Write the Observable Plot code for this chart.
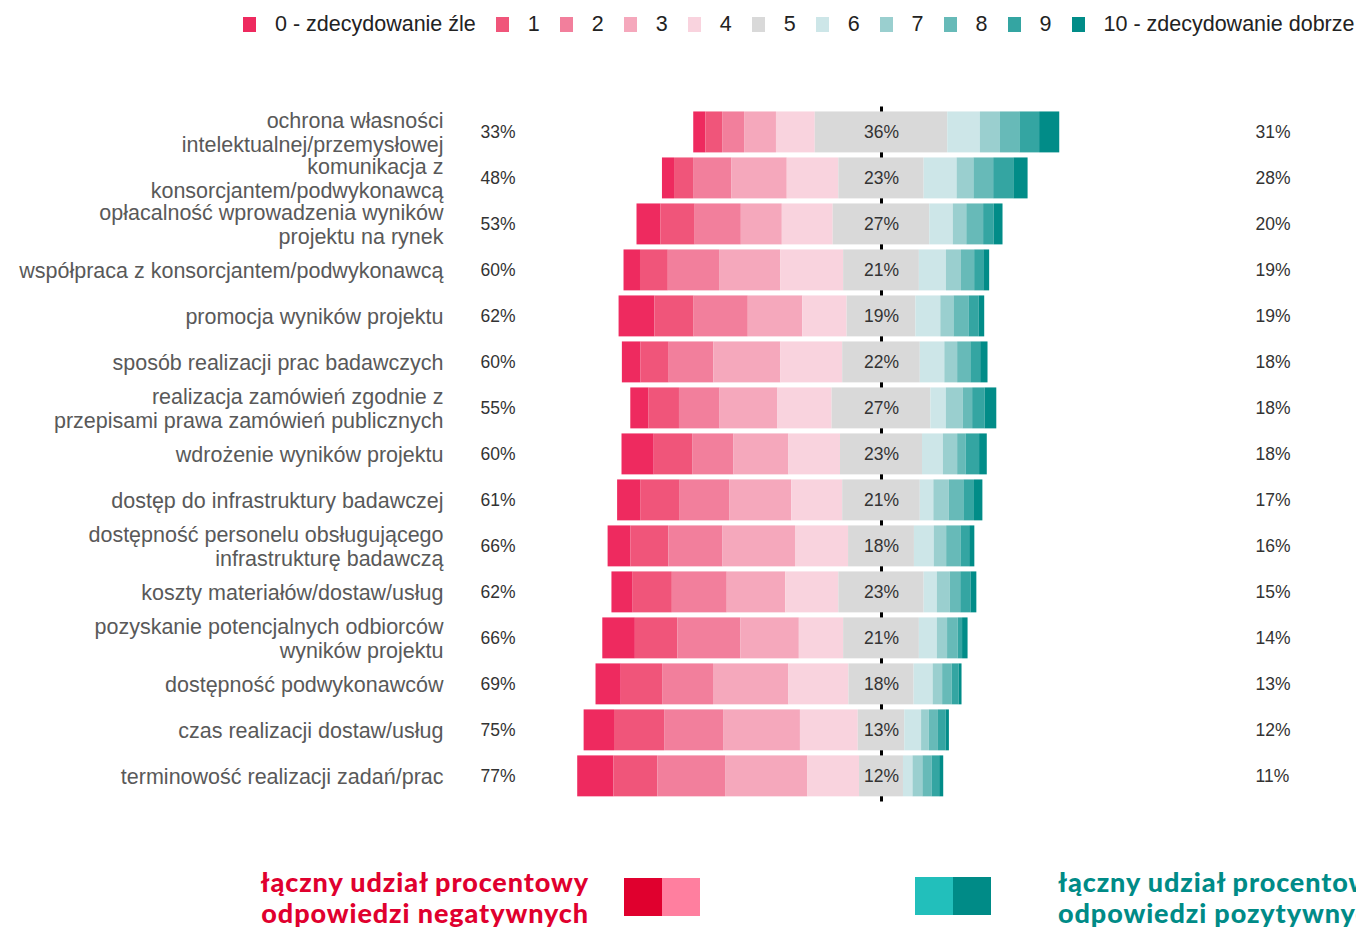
<!DOCTYPE html>
<html>
<head>
<meta charset="utf-8">
<script src="https://cdn.jsdelivr.net/npm/d3@7"></script>
<script src="https://cdn.jsdelivr.net/npm/@observablehq/plot@0.6"></script>
<style>
  html, body { margin: 0; padding: 0; background: #fff; width: 1356px; height: 927px; overflow: hidden; position: relative; }
  #legend { position: absolute; left: 243px; top: 12px; display: flex; align-items: center; white-space: nowrap;
            font-family: "Liberation Sans", Arial, sans-serif; font-size: 21.5px; color: #222; }
  #legend .sw { width: 13px; height: 15px; margin-right: 19px; }
  #legend .lb { margin-right: 20px; }
  #chart { position: absolute; left: 0; top: 50px; }
  .foot { position: absolute; font-family: "Lato", sans-serif; font-weight: 900; font-size: 27px; letter-spacing: 0.9px; line-height: 31px; white-space: nowrap; }
  #negText { right: calc(1356px - 589px); top: 866px; text-align: right; color: #e0002e; }
  #posText { left: 1058px; top: 866px; text-align: left; color: #008b87; }
  .box { position: absolute; width: 38px; height: 38px; }
</style>
</head>
<body>
<div id="legend"></div>
<div id="chart"></div>
<div class="foot" id="negText">łączny udział procentowy<br>odpowiedzi negatywnych</div>
<div class="box" style="left:624px;top:878px;background:#e0002e"></div>
<div class="box" style="left:662px;top:878px;background:#ff7f9f"></div>
<div class="box" style="left:915px;top:877px;background:#22bfbb"></div>
<div class="box" style="left:953px;top:877px;background:#008b87"></div>
<div class="foot" id="posText">łączny udział procentowy<br>odpowiedzi pozytywnych</div>
<script>
const categories = [
  "ochrona własności\nintelektualnej/przemysłowej",
  "komunikacja z\nkonsorcjantem/podwykonawcą",
  "opłacalność wprowadzenia wyników\nprojektu na rynek",
  "współpraca z konsorcjantem/podwykonawcą",
  "promocja wyników projektu",
  "sposób realizacji prac badawczych",
  "realizacja zamówień zgodnie z\nprzepisami prawa zamówień publicznych",
  "wdrożenie wyników projektu",
  "dostęp do infrastruktury badawczej",
  "dostępność personelu obsługującego\ninfrastrukturę badawczą",
  "koszty materiałów/dostaw/usług",
  "pozyskanie potencjalnych odbiorców\nwyników projektu",
  "dostępność podwykonawców",
  "czas realizacji dostaw/usług",
  "terminowość realizacji zadań/prac"
];
const levels = ["0 - zdecydowanie źle","1","2","3","4","5","6","7","8","9","10 - zdecydowanie dobrze"];
const colors = ["#ee2a5f","#f0557a","#f27f9c","#f5a8bc","#f9d3de","#d9d9d9","#cde6e8","#9acfcf","#67bab8","#34a5a2","#018c88"];
// shares (%) of answers 0..10 for each category
const values = [
  [3.3, 4.6, 6.0, 8.7, 10.6, 36.2, 8.9, 5.5, 5.3, 5.4, 5.5],
  [3.3, 5.2, 10.5, 15.1, 14.1, 23.3, 9.0, 4.6, 5.4, 5.5, 3.9],
  [6.5, 9.4, 12.6, 11.2, 13.9, 26.4, 6.4, 3.7, 4.6, 2.9, 2.4],
  [4.5, 7.6, 14.0, 16.7, 17.2, 20.7, 7.4, 4.1, 3.6, 2.5, 1.6],
  [9.8, 10.7, 14.8, 14.9, 12.1, 18.8, 6.8, 3.6, 4.1, 2.8, 1.5],
  [5.1, 7.7, 12.2, 18.3, 16.9, 21.2, 6.7, 3.5, 3.6, 2.7, 2.0],
  [5.0, 8.3, 11.1, 15.8, 14.8, 27.0, 4.2, 4.6, 2.6, 3.4, 3.2],
  [8.8, 10.5, 11.3, 15.0, 14.1, 22.4, 5.7, 3.9, 2.3, 3.7, 2.1],
  [6.3, 10.8, 13.5, 17.0, 13.9, 21.2, 3.7, 4.2, 4.0, 2.9, 2.3],
  [6.2, 10.4, 14.8, 19.8, 14.5, 18.0, 5.4, 3.4, 3.9, 2.4, 1.4],
  [5.8, 10.7, 15.0, 16.0, 14.5, 23.3, 3.6, 3.5, 2.9, 2.8, 1.6],
  [8.9, 11.6, 17.2, 16.0, 12.1, 20.7, 4.9, 2.8, 2.9, 1.2, 1.5],
  [6.9, 11.3, 13.9, 20.6, 16.4, 17.8, 5.2, 2.6, 2.6, 1.9, 0.8],
  [8.3, 13.7, 16.1, 21.0, 15.8, 12.7, 4.6, 2.1, 2.5, 2.1, 0.9],
  [9.9, 12.0, 18.5, 22.5, 14.1, 12.0, 2.6, 2.7, 2.5, 2.1, 1.1]
];
const negLabels = ["33%","48%","53%","60%","62%","60%","55%","60%","61%","66%","62%","66%","69%","75%","77%"];
const midLabels = ["36%","23%","27%","21%","19%","22%","27%","23%","21%","18%","23%","21%","18%","13%","12%"];
const posLabels = ["31%","28%","20%","19%","19%","18%","18%","18%","17%","16%","15%","14%","13%","12%","11%"];

// legend
const lg = d3.select("#legend");
levels.forEach((l, i) => {
  lg.append("div").attr("class", "sw").style("background", colors[i]);
  lg.append("div").attr("class", "lb").text(l);
});

// segments
const segs = [];
categories.forEach((c, r) => {
  const v = values[r];
  let start = -(d3.sum(v.slice(0, 5)) + v[5] / 2);
  v.forEach((val, k) => {
    segs.push({cat: c, level: levels[k], x1: start, x2: start + val});
    start += val;
  });
});
const rows = categories.map((c, i) => ({cat: c, neg: negLabels[i], mid: midLabels[i], pos: posLabels[i]}));

const font = "'Liberation Sans', Arial, sans-serif";
const plot = Plot.plot({
  width: 1356,
  height: 790,
  marginLeft: 515,
  marginRight: 109,
  marginTop: 56.4,
  marginBottom: 38.6,
  style: {fontFamily: font, background: "#fff"},
  x: {domain: [-100, 100], axis: null},
  y: {domain: categories, padding: 0.11, round: false, axis: null},
  color: {domain: levels, range: colors},
  marks: [
    Plot.ruleX([0], {stroke: "#000", strokeWidth: 3}),
    Plot.barX(segs, {x1: "x1", x2: "x2", y: "cat", fill: "level"}),
    Plot.text(rows, {x: 0, y: "cat", text: "mid", fontSize: 17.5, fill: "#333"}),
    Plot.text(rows, {y: "cat", text: "cat", frameAnchor: "left", dx: -72, textAnchor: "end", fontSize: 21.5, fill: "#595959", lineHeight: 1.12}),
    Plot.text(rows, {y: "cat", text: "neg", frameAnchor: "left", dx: -35, textAnchor: "start", fontSize: 17.5, fill: "#333"}),
    Plot.text(rows, {y: "cat", text: "pos", frameAnchor: "right", dx: 8, textAnchor: "start", fontSize: 17.5, fill: "#333"})
  ]
});
document.getElementById("chart").appendChild(plot);
</script>
</body>
</html>
